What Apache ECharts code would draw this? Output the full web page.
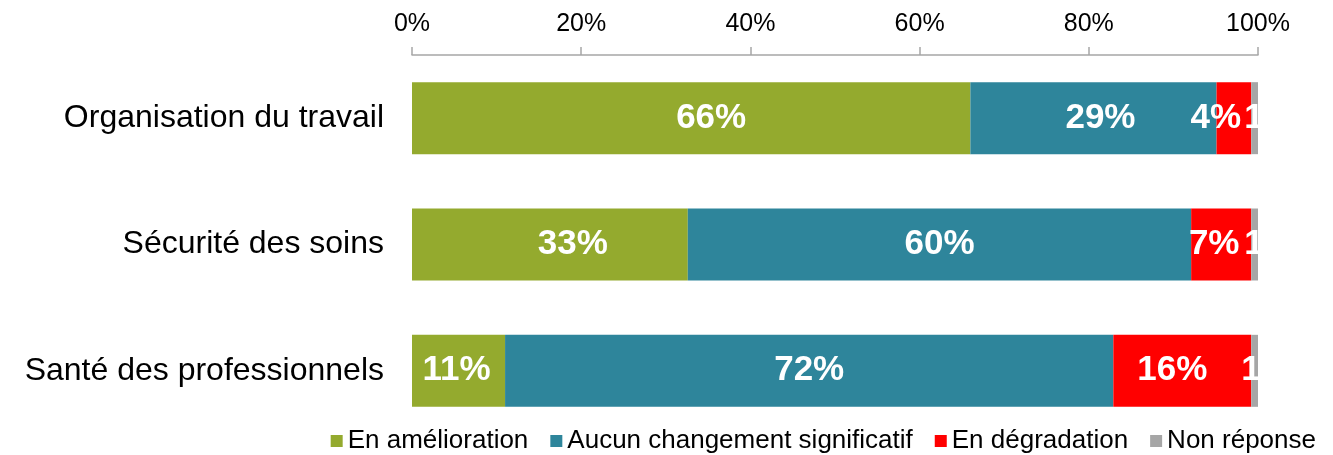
<!DOCTYPE html>
<html>
<head>
<meta charset="utf-8">
<script src="https://cdn.jsdelivr.net/npm/echarts@6/dist/echarts.min.js"></script>
<style>
    html, body { margin: 0; padding: 0; background: #fff; }
    #chart { width: 1333px; height: 455px; }
</style>
</head>
<body>
<div id="chart"></div>
<script>
// categories from top to bottom
var categories = ['Organisation du travail', 'Sécurité des soins', 'Santé des professionnels'];
var seriesNames = ['En amélioration', 'Aucun changement significatif', 'En dégradation', 'Non réponse'];
var amelioration = [66, 32.6, 11];
var aucunChangement = [29.1, 59.5, 71.9];
var degradation = [4.1, 7.1, 16.3];
var nonReponse = [0.8, 0.8, 0.8];
var xTicks = [0, 20, 40, 60, 80, 100];
var colors = ['#94aa2e', '#2e859b', '#ff0000', '#a6a6a6'];

// horizontal shift of the value labels (as placed in the original), per series and row
var labelShift = [[20, 23, -2], [7, 0, 0], [-18, -7, -10], [15, 15, 12]];

var chart = echarts.init(document.getElementById('chart'), null, {renderer: 'canvas'});

var font = 'Liberation Sans, Arial, sans-serif';

function makeSeries(idx, data) {
    return {
        name: seriesNames[idx],
        type: 'bar',
        stack: 'total',
        barWidth: 72,
        data: data.map(function (v, i) {
            return {value: v, label: {offset: [labelShift[idx][i], 0]}};
        }),
        label: {
            show: true,
            position: 'inside',
            color: '#fff',
            fontFamily: font,
            fontWeight: 'bold',
            fontSize: 35,
            formatter: function (p) {
                return Math.round(p.value) + '%';
            }
        }
    };
}

var option = {
    color: colors,
    animation: false,
    textStyle: {fontFamily: font},
    grid: {
        left: 412,
        right: 75,
        top: 55,
        bottom: 21
    },
    legend: {
        data: seriesNames,
        right: 12,
        bottom: -4,
        icon: 'rect',
        itemWidth: 12,
        itemHeight: 12,
        itemGap: 22,
        textStyle: {
            fontFamily: font,
            fontSize: 26,
            color: '#000',
            padding: [0, 0, 0, 0]
        }
    },
    xAxis: {
        type: 'value',
        position: 'top',
        min: xTicks[0],
        max: xTicks[xTicks.length - 1],
        interval: 20,
        axisLine: {show: true, lineStyle: {color: '#a6a6a6', width: 1.5}},
        axisTick: {show: true, length: 8, lineStyle: {color: '#a6a6a6', width: 1.5}},
        splitLine: {show: false},
        axisLabel: {
            color: '#000',
            fontSize: 25,
            fontFamily: font,
            margin: 18,
            formatter: '{value}%'
        }
    },
    yAxis: {
        type: 'category',
        inverse: true,
        data: categories,
        axisLine: {show: false},
        axisTick: {show: false},
        axisLabel: {
            color: '#000',
            fontSize: 32,
            fontFamily: font,
            margin: 28
        }
    },
    series: [
        makeSeries(0, amelioration),
        makeSeries(1, aucunChangement),
        makeSeries(2, degradation),
        makeSeries(3, nonReponse)
    ]
};

chart.setOption(option);

window.addEventListener('resize', function () {
    chart.resize();
});
</script>
</body>
</html>
